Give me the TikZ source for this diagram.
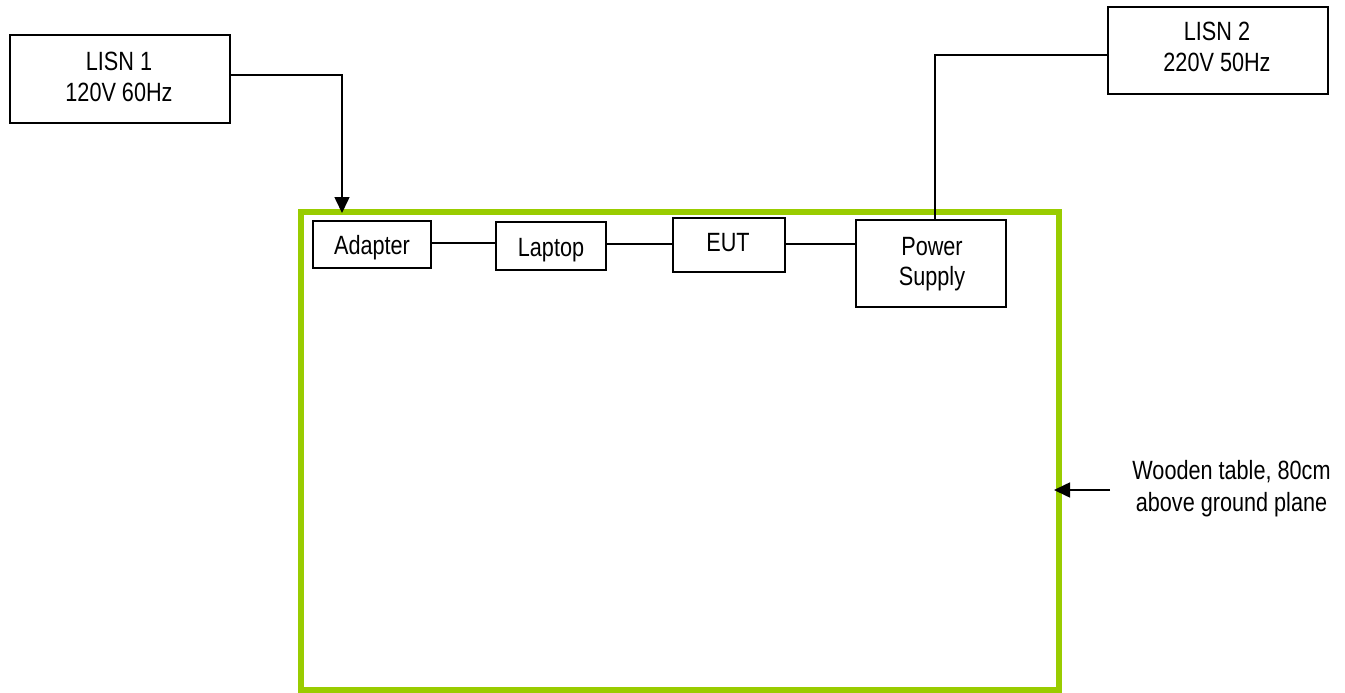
\documentclass[tikz,border=0pt]{standalone}
\usepackage{fontspec}
\setmainfont{Liberation Sans}[FakeStretch=0.82]
\usetikzlibrary{arrows.meta}
\definecolor{tablegreen}{HTML}{99CC00}
\begin{document}
\begin{tikzpicture}[x=1pt,y=-1pt,
  box/.style={draw=black,line width=2pt,rectangle,inner sep=0pt},
  txt/.style={font=\fontsize{26.4}{31}\selectfont,anchor=base,inner sep=0pt},
  wire/.style={draw=black,line width=1.6pt},
  arr/.style={wire,-{Triangle[length=16pt,width=15pt]}}]
\useasboundingbox (0,0) rectangle (1345,693);
\fill[white] (0,0) rectangle (1345,693);
% table
\draw[tablegreen,line width=6pt] (301,212) rectangle (1059,690);
% boxes
\node[box,minimum width=220pt,minimum height=87pt] (lisn1) at (120,79) {};
\node[box,minimum width=220pt,minimum height=87pt] (lisn2) at (1218,50.5) {};
\node[box,minimum width=118pt,minimum height=47pt] (adapter) at (372,244.5) {};
\node[box,minimum width=110pt,minimum height=48pt] (laptop) at (551,246) {};
\node[box,minimum width=112pt,minimum height=54pt] (eut) at (729,245) {};
\node[box,minimum width=150pt,minimum height=87pt] (ps) at (931,263.5) {};
% texts
\node[txt] (t1a) at (119,70.7) {LISN 1};
\node[txt] (t1b) at (119,101.7) {120V 60Hz};
\node[txt] (t2a) at (1217,40.7) {LISN 2};
\node[txt] (t2b) at (1217,71.7) {220V 50Hz};
\node[txt] (tad) at (372,254) {Adapter};
\node[txt] (tlap) at (551,256.7) {Laptop};
\node[txt] (teut) at (728,251.7) {EUT};
\node[txt] (tps1) at (932,255) {Power};
\node[txt] (tps2) at (932,285) {Supply};
\node[txt] (tw1) at (1231.5,479) {Wooden table, 80cm};
\node[txt] (tw2) at (1231.5,511) {above ground plane};
% connectors
\coordinate (c1) at (342,75);
\coordinate (c1end) at (342,213);
\draw[arr] (lisn1.east |- c1) -- (c1) -- (c1end);
\coordinate (c2) at (935,55);
\draw[wire] (lisn2.west |- c2) -- (c2) -- (c2 |- ps.north);
\draw[wire] (adapter.east |- 0,242.7) -- (laptop.west |- 0,242.7);
\draw[wire] (laptop.east |- 0,244) -- (eut.west |- 0,244);
\draw[wire] (eut.east |- 0,244) -- (ps.west |- 0,244);
\coordinate (wa) at (1110,490);
\coordinate (wb) at (1054,490);
\draw[arr] (wa) -- (wb);
\end{tikzpicture}
\end{document}
